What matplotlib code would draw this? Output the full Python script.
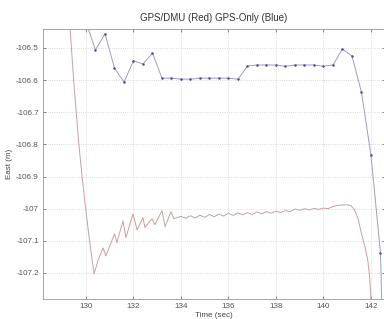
import matplotlib
matplotlib.use("Agg")
import matplotlib.pyplot as plt

plt.rcParams['font.family'] = ['Liberation Sans', 'DejaVu Sans']

# GPS/DMU (red) samples: time (s), east (m)
red_t = [129.1, 129.33, 129.5, 129.7, 129.85, 129.96, 130.15, 130.34, 130.5, 130.72,
         130.84, 131.2, 131.3, 131.56, 131.68, 131.98, 132.15, 132.4, 132.48, 132.78,
         132.9, 133.2, 133.33, 133.58, 133.7, 134.0, 134.2, 134.4, 134.6, 134.8,
         135.0, 135.2, 135.4, 135.6, 135.8, 136.0, 136.2, 136.4, 136.6, 136.8,
         137.0, 137.2, 137.4, 137.6, 137.8, 138.0, 138.2, 138.4, 138.6, 138.8,
         139.0, 139.2, 139.4, 139.6, 139.8, 140.0, 140.2, 140.4, 140.6, 140.8,
         141.0, 141.15, 141.3, 141.45, 141.62, 141.75, 141.87, 141.95, 142.0, 142.05]
red_e = [-106.20, -106.44, -106.62, -106.80, -106.91, -106.984, -107.10, -107.203, -107.1625, -107.122,
         -107.147, -107.078, -107.106, -107.038, -107.090, -107.016, -107.066, -107.028, -107.059, -107.031,
         -107.050, -107.006, -107.056, -107.009, -107.031, -107.024, -107.030, -107.022, -107.029, -107.020,
         -107.027, -107.018, -107.025, -107.017, -107.023, -107.014, -107.021, -107.013, -107.019, -107.012,
         -107.018, -107.010, -107.016, -107.009, -107.014, -107.008, -107.012, -107.006, -107.009, -107.001,
         -107.005, -107.000, -107.004, -106.999, -107.002, -106.998, -107.000, -106.993, -106.990, -106.988,
         -106.988, -106.990, -107.003, -107.030, -107.084, -107.120, -107.1625, -107.220, -107.281, -107.36]

# GPS-only (blue) samples
blue_t = [129.2, 129.6, 130.0, 130.4, 130.8, 131.2, 131.6, 132.0, 132.4, 132.8,
          133.2, 133.6, 134.0, 134.4, 134.8, 135.2, 135.6, 136.0, 136.4, 136.8,
          137.2, 137.6, 138.0, 138.4, 138.8, 139.2, 139.6, 140.0, 140.4, 140.8,
          141.2, 141.6, 142.0, 142.4, 142.8]
blue_e = [-105.9, -106.2, -106.42, -106.506, -106.456, -106.5625, -106.606, -106.54, -106.55, -106.516,
          -106.594, -106.594, -106.597, -106.597, -106.594, -106.594, -106.594, -106.594, -106.597, -106.556,
          -106.553, -106.553, -106.553, -106.557, -106.553, -106.553, -106.553, -106.557, -106.553, -106.503,
          -106.525, -106.638, -106.834, -107.1375, -108.3]

xticks = [130, 132, 134, 136, 138, 140, 142]
yticks = [-106.5, -106.6, -106.7, -106.8, -106.9, -107.0, -107.1, -107.2]
ytick_labels = ['-106.5', '-106.6', '-106.7', '-106.8', '-106.9', '-107', '-107.1', '-107.2']

fig = plt.figure(figsize=(3.84, 3.19), dpi=100)
ax = fig.add_axes([43/384, 1 - 299/319, (385 - 43)/384, (299 - 29)/319])

ax.plot(blue_t, blue_e, color='#9c9cc4', lw=0.7, marker='.', markersize=1.6,
        markerfacecolor='#4a4aa0', markeredgecolor='#4a4aa0', zorder=3)
ax.plot(red_t, red_e, color='#cc9ea0', lw=0.7, zorder=3)

ax.set_xlim(128.19, 142.59)
ax.set_ylim(-107.281, -106.441)
ax.set_xticks(xticks)
ax.set_xticklabels([str(v) for v in xticks])
ax.set_yticks(yticks)
ax.set_yticklabels(ytick_labels)

ax.grid(True, color='#d0d0d0', linestyle=':', linewidth=0.6)
ax.tick_params(direction='in', length=2.5, width=0.5, labelsize=5.8, colors='#555555',
               top=True, right=True, pad=3)
for s in ax.spines.values():
    s.set_color('#999999')
    s.set_linewidth(0.6)

ax.set_title('GPS/DMU (Red) GPS-Only (Blue)', fontsize=7, color='#333333', pad=6)
ax.set_xlabel('Time (sec)', fontsize=5.8, color='#444444', labelpad=1)
ax.set_ylabel('East (m)', fontsize=5.8, color='#444444', labelpad=2)

fig.savefig('out.png', dpi=100)
